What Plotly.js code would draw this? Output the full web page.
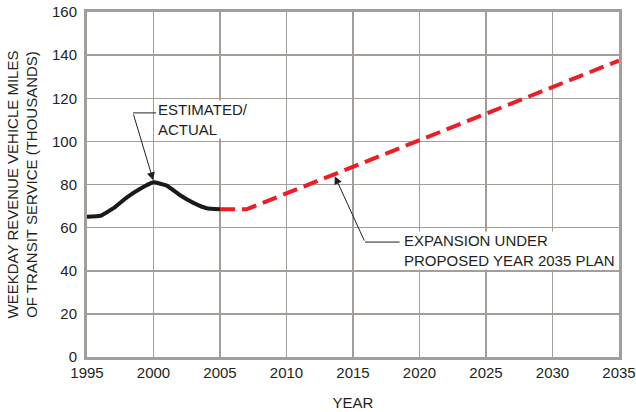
<!DOCTYPE html>
<html>
<head>
<meta charset="utf-8">
<script src="https://cdn.plot.ly/plotly-3.0.1.min.js"></script>
<style>html,body{margin:0;padding:0;background:#fff;}#chart{width:636px;height:412px;}</style>
</head>
<body>
<div id="chart"></div>
<script>
const actualYears = [1995, 1996, 1997, 1998, 1999, 2000, 2001, 2002, 2003, 2004, 2005];
const actualValues = [65, 65.5, 69, 74, 78, 81, 79.5, 75, 71.5, 69, 68.5];
const planYears = [2005, 2007, 2035];
const planValues = [68.5, 68.5, 137.5];
const xTicks = [1995, 2000, 2005, 2010, 2015, 2020, 2025, 2030, 2035];
const yTicks = [0, 20, 40, 60, 80, 100, 120, 140, 160];

const font = {family: 'Liberation Sans, Arial, sans-serif', size: 15, color: '#231f20'};
const grid = '#a39e9a';

const traces = [
  {x: actualYears, y: actualValues, mode: 'lines', type: 'scatter',
   line: {color: '#1a1a1a', width: 4, shape: 'spline', smoothing: 0.3}, hoverinfo: 'skip'},
  {x: planYears, y: planValues, mode: 'lines', type: 'scatter',
   line: {color: '#ee1c25', width: 4, dash: '15px,7px'}, hoverinfo: 'skip'}
];

const layout = {
  width: 636, height: 412,
  margin: {l: 87, r: 17, t: 12, b: 55},
  paper_bgcolor: '#fff', plot_bgcolor: '#fff',
  showlegend: false,
  font: font,
  xaxis: {range: [1995, 2035], tickvals: xTicks, ticktext: xTicks.map(String),
    showgrid: true, gridcolor: grid, gridwidth: 1.5, zeroline: false,
    showline: true, mirror: true, linecolor: grid, linewidth: 3,
    ticks: '', tickfont: font,
    title: {text: 'YEAR', font: font, standoff: 18}},
  yaxis: {range: [0, 160], tickvals: yTicks, ticktext: yTicks.map(String),
    showgrid: true, gridcolor: grid, gridwidth: 1.5, zeroline: false,
    showline: true, mirror: true, linecolor: grid, linewidth: 3,
    ticks: '', tickfont: font, ticklabelstandoff: 4,
    title: {text: 'WEEKDAY REVENUE VEHICLE MILES<br>OF TRANSIT SERVICE (THOUSANDS)', font: font, standoff: 11}},
  shapes: [
    {type: 'line', xref: 'x', yref: 'y', x0: 1998.46, y0: 113.2, x1: 2000.2, y1: 113.2,
     line: {color: '#231f20', width: 1}},
    {type: 'line', xref: 'x', yref: 'y', x0: 2015.9, y0: 53.3, x1: 2018.5, y1: 53.3,
     line: {color: '#231f20', width: 1}}
  ],
  annotations: [
    {x: 2000, y: 81.5, xref: 'x', yref: 'y', ax: 1998.46, ay: 113.2, axref: 'x', ayref: 'y',
     text: '', showarrow: true, arrowhead: 2, arrowsize: 1.6, arrowwidth: 1, arrowcolor: '#231f20', standoff: 1},
    {x: 2013.6, y: 84.3, xref: 'x', yref: 'y', ax: 2015.9, ay: 53.3, axref: 'x', ayref: 'y',
     text: '', showarrow: true, arrowhead: 2, arrowsize: 1.6, arrowwidth: 1, arrowcolor: '#231f20', standoff: 1},
    {x: 2000.3, y: 110, xref: 'x', yref: 'y', xanchor: 'left', yanchor: 'middle', align: 'left',
     text: 'ESTIMATED/<br>ACTUAL', showarrow: false, bgcolor: '#fff', font: font, borderpad: 0},
    {x: 2018.75, y: 49.6, xref: 'x', yref: 'y', xanchor: 'left', yanchor: 'middle', align: 'left',
     text: 'EXPANSION UNDER<br>PROPOSED YEAR 2035 PLAN', showarrow: false, bgcolor: '#fff', font: font, borderpad: 0}
  ]
};

Plotly.newPlot('chart', traces, layout, {staticPlot: true, displayModeBar: false});
</script>
</body>
</html>
